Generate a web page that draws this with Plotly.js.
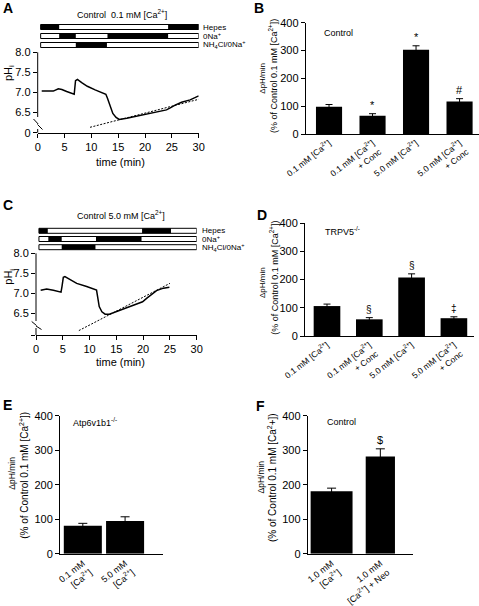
<!DOCTYPE html>
<html><head><meta charset="utf-8">
<script src="https://cdn.plot.ly/plotly-3.0.1.min.js"></script>
<style>html,body{margin:0;padding:0;background:#fff}</style>
</head><body><div id="chart" style="width:479px;height:606px"></div>
<script>
// ---------------- DATA ----------------
// Panel A: Control 0.1 mM [Ca2+]
const A_time = [0.75, 2.9, 3.85, 4.5, 5.4, 6.8, 7.05, 7.4, 8.2, 9.25, 10.7, 11.9, 12.7, 13.0, 13.5, 14.0, 14.6, 15.2, 16.6, 19.1, 21.6, 24.0, 24.7, 25.6, 26.8, 28.4, 30.0];
const A_pH   = [7.03, 7.03, 7.09, 7.07, 7.02, 6.95, 7.29, 7.32, 7.24, 7.15, 7.06, 7.00, 6.95, 6.85, 6.64, 6.47, 6.37, 6.32, 6.35, 6.42, 6.49, 6.56, 6.61, 6.68, 6.75, 6.81, 6.91];
const A_fitTime = [9.75, 30];
const A_fitPH   = [6.125, 6.825];
// Panel C: Control 5.0 mM [Ca2+]
const C_time = [0.87, 1.99, 3.24, 4.67, 4.85, 5.1, 5.4, 6.35, 7.6, 9.46, 11.0, 11.3, 11.5, 11.8, 12.3, 12.9, 13.7, 15.1, 16.9, 18.8, 19.9, 20.7, 21.6, 22.5, 23.8, 24.9];
const C_pH   = [7.08, 7.11, 7.08, 7.03, 7.17, 7.40, 7.42, 7.35, 7.25, 7.17, 7.11, 7.08, 6.92, 6.67, 6.54, 6.48, 6.48, 6.55, 6.65, 6.75, 6.79, 6.88, 6.98, 7.07, 7.13, 7.15];
const C_fitTime = [8.0, 25.0];
const C_fitPH   = [6.07, 7.25];

const timeTicks = [0, 5, 10, 15, 20, 25, 30];
const A_pHTickVals = [5.99, 6.5, 7.0, 7.5, 8.0];
const A_pHTickText = ['0', '6.5', '7.0', '7.5', '8.0'];
const C_pHTickVals = [5.96, 6.5, 7.0, 7.5, 8.0];
const C_pHTickText = ['', '6.5', '7.0', '7.5', '8.0'];

// Solution protocol bars (time spans; black = solution applied)
const condLabels = ['Hepes', '0Na<sup>+</sup>', 'NH<sub>4</sub>Cl/0Na<sup>+</sup>'];
const A_condSpan = [0.55, 30];
const A_hepesOn = [[0.55, 4.0], [24.3, 30]];
const A_naFreeOn = [[4.0, 7.1], [13.0, 24.3]];
const A_nh4On = [[7.1, 12.9]];
const C_condSpan = [0.55, 30];
const C_hepesOn = [[0.55, 2.2], [19.8, 25.2]];
const C_naFreeOn = [[2.3, 4.8], [11.2, 19.7]];
const C_nh4On = [[4.8, 11.1]];

// Panel B: Control
const B_cats = ['0.1 mM [Ca<sup>2+</sup>]', '0.1 mM [Ca<sup>2+</sup>]<br>+ Conc', '5.0 mM [Ca<sup>2+</sup>]', '5.0 mM [Ca<sup>2+</sup>]<br>+ Conc'];
const B_vals = [98, 66, 303, 117];
const B_errs = [8, 7, 14, 10];
const B_marks = ['', '*', '*', '#'];
// Panel D: TRPV5-/-
const D_cats = ['0.1 mM [Ca<sup>2+</sup>]', '0.1 mM [Ca<sup>2+</sup>]<br>+ Conc', '5.0 mM [Ca<sup>2+</sup>]', '5.0 mM [Ca<sup>2+</sup>]<br>+ Conc'];
const D_vals = [106, 59, 207, 63];
const D_errs = [7, 6, 13, 5];
const D_marks = ['', '§', '§', '‡'];
// Panel E: Atp6v1b1-/-
const E_cats = ['0.1 mM<br>[Ca<sup>2+</sup>]', '5.0 mM<br>[Ca<sup>2+</sup>]'];
const E_vals = [81, 95];
const E_errs = [7, 12];
// Panel F: Control, neomycin
const F_cats = ['1.0 mM<br>[Ca<sup>2+</sup>]', '1.0 mM<br>[Ca<sup>2+</sup>] + Neo'];
const F_vals = [181, 282];
const F_errs = [9, 22];
const F_marks = ['', '$'];
const barTicks = [0, 100, 200, 300, 400];

// ---------------- LAYOUT HELPERS ----------------
const W = 479, H = 606;
const px = x => x / W;
const py = y => 1 - y / H;
const FONT = 'Liberation Sans, Arial, Helvetica, sans-serif';

const axBase = {showgrid: false, zeroline: false, showline: true, linecolor: '#000', linewidth: 1,
  ticks: 'outside', ticklen: 4, tickwidth: 1, tickcolor: '#000', tickfont: {size: 11, color: '#000'}, fixedrange: true};

function ann(x, y, text, size, opts) {
  return Object.assign({xref: 'paper', yref: 'paper', x: px(x), y: py(y), text: text, showarrow: false,
    xanchor: 'center', yanchor: 'middle', font: {size: size, color: '#000', family: FONT}}, opts || {});
}
function line(x0, y0, x1, y1, w) {
  return {type: 'line', xref: 'paper', yref: 'paper', x0: px(x0), y0: py(y0), x1: px(x1), y1: py(y1),
    line: {color: '#000', width: w || 1}};
}
function condShapes(xref, rowTops, rowH, span, rows) {
  const s = [];
  rows.forEach((iv, r) => {
    const y1 = py(rowTops[r]), y0 = py(rowTops[r] + rowH);
    s.push({type: 'rect', xref: xref, yref: 'paper', x0: span[0], x1: span[1], y0: y0, y1: y1,
      line: {color: '#000', width: 1}, fillcolor: '#fff'});
    iv.forEach(([a, b]) => s.push({type: 'rect', xref: xref, yref: 'paper', x0: a, x1: b, y0: y0, y1: y1,
      line: {width: 0}, fillcolor: '#000'}));
  });
  return s;
}
function markAnns(cats, vals, errs, marks, xa, ya, size) {
  const out = [];
  marks.forEach((m, i) => {
    if (!m) return;
    out.push({xref: xa, yref: ya, x: cats[i], y: vals[i] + errs[i], text: m, showarrow: false,
      yanchor: 'bottom', yshift: 1, font: {size: size, color: '#000', family: FONT}});
  });
  return out;
}
function barTrace(cats, vals, errs, xa, ya, width, capw) {
  return {type: 'bar', x: cats, y: vals, xaxis: xa, yaxis: ya, width: width,
    marker: {color: '#000', line: {width: 0}},
    error_y: {type: 'data', array: errs, symmetric: true, color: '#000', thickness: 1, width: capw},
    hoverinfo: 'skip'};
}

// ---------------- TRACES ----------------
const traces = [
  {x: A_time, y: A_pH, xaxis: 'x', yaxis: 'y', mode: 'lines', line: {color: '#000', width: 1.5}},
  {x: A_fitTime, y: A_fitPH, xaxis: 'x', yaxis: 'y', mode: 'lines', line: {color: '#000', width: 1, dash: '2px,1.5px'}},
  {x: C_time, y: C_pH, xaxis: 'x3', yaxis: 'y3', mode: 'lines', line: {color: '#000', width: 1.5}},
  {x: C_fitTime, y: C_fitPH, xaxis: 'x3', yaxis: 'y3', mode: 'lines', line: {color: '#000', width: 1, dash: '2px,1.5px'}},
  barTrace(B_cats, B_vals, B_errs, 'x2', 'y2', 0.6, 3.5),
  barTrace(D_cats, D_vals, D_errs, 'x4', 'y4', 0.63, 3.5),
  barTrace(E_cats, E_vals, E_errs, 'x5', 'y5', 0.9, 4.5),
  barTrace(F_cats, F_vals, F_errs, 'x6', 'y6', [0.86, 0.6], 4.5)
];

const catAx = {type: 'category', ticks: '', tickangle: -38, tickfont: {size: 8.5, color: '#000'}};

const layout = {
  width: W, height: H, margin: {l: 0, r: 0, t: 0, b: 0, pad: 0},
  paper_bgcolor: '#fff', plot_bgcolor: 'rgba(0,0,0,0)', showlegend: false,
  font: {family: FONT, color: '#000', size: 11},
  // A
  xaxis: Object.assign({}, axBase, {domain: [px(37.7), px(198.7)], range: [0, 30], tickvals: timeTicks, anchor: 'y'}),
  yaxis: Object.assign({}, axBase, {showline: false, domain: [py(132.7), py(52.3)], range: [5.99, 8.0],
    tickvals: A_pHTickVals, ticktext: A_pHTickText, anchor: 'x'}),
  // B
  xaxis2: Object.assign({}, axBase, catAx, {domain: [px(305.7), px(478.7)], range: [-0.536, 3.44], anchor: 'y2'}),
  yaxis2: Object.assign({}, axBase, {domain: [py(134), py(22.7)], range: [0, 400], tickvals: barTicks, anchor: 'x2'}),
  // C
  xaxis3: Object.assign({}, axBase, {domain: [px(36), px(196.7)], range: [0, 30], tickvals: timeTicks, anchor: 'y3'}),
  yaxis3: Object.assign({}, axBase, {showline: false, domain: [py(335), py(253.3)], range: [5.96, 8.0],
    tickvals: C_pHTickVals, ticktext: C_pHTickText, anchor: 'x3'}),
  // D
  xaxis4: Object.assign({}, axBase, catAx, {domain: [px(305), px(474)], range: [-0.52, 3.475], anchor: 'y4'}),
  yaxis4: Object.assign({}, axBase, {domain: [py(336), py(223)], range: [0, 400], tickvals: barTicks, anchor: 'x4'}),
  // E
  xaxis5: Object.assign({}, axBase, catAx, {domain: [px(60), px(162.7)], range: [-0.54, 1.89], anchor: 'y5', tickfont: {size: 9, color: '#000'}}),
  yaxis5: Object.assign({}, axBase, {domain: [py(553.7), py(415.7)], range: [0, 400], tickvals: barTicks, anchor: 'x5'}),
  // F
  xaxis6: Object.assign({}, axBase, catAx, {domain: [px(307.7), px(413)], range: [-0.49, 1.67], anchor: 'y6', tickfont: {size: 9, color: '#000'}}),
  yaxis6: Object.assign({}, axBase, {domain: [py(553.7), py(415.7)], range: [0, 400], tickvals: barTicks, anchor: 'x6'}),
  shapes: [].concat(
    condShapes('x', [24.5, 33.5, 42.5], 5, A_condSpan, [A_hepesOn, A_naFreeOn, A_nh4On]),
    condShapes('x3', [228.3, 236.5, 244.7], 5, C_condSpan, [C_hepesOn, C_naFreeOn, C_nh4On]),
    [
      // broken pH axis, panel A
      line(37.7, 52.3, 37.7, 117), line(33.5, 119, 38.2, 124), line(37.5, 124.5, 42.5, 129.5), line(37.7, 129, 37.7, 132.7),
      // broken pH axis, panel C
      line(36, 253.3, 36, 321), line(31.7, 321.5, 36.5, 325.5), line(36, 326, 41.5, 329.5), line(36, 328, 36, 335)
    ]
  ),
  annotations: [].concat(
    [
      ann(7.7, 8.5, '<b>A</b>', 14), ann(259, 8.5, '<b>B</b>', 14), ann(7.5, 205, '<b>C</b>', 14),
      ann(261.7, 215, '<b>D</b>', 14), ann(7.5, 405, '<b>E</b>', 14), ann(260.5, 406, '<b>F</b>', 14),
      ann(121.7, 14.3, 'Control  0.1 mM [Ca<sup>2+</sup>]', 9),
      ann(121, 215, 'Control 5.0 mM [Ca<sup>2+</sup>]', 9),
      ann(120.8, 161.7, 'time (min)', 11), ann(120, 362, 'time (min)', 11),
      ann(9, 73, 'pH<sub>i</sub>', 11, {textangle: -90}), ann(9, 276.7, 'pH<sub>i</sub>', 11, {textangle: -90}),
      ann(321.7, 32.7, 'Control', 9, {xanchor: 'left'}),
      ann(322.7, 230.8, 'TRPV5<sup>-/-</sup>', 9, {xanchor: 'left'}),
      ann(71, 422.3, 'Atp6v1b1<sup>-/-</sup>', 9, {xanchor: 'left'}),
      ann(325, 422.3, 'Control', 9, {xanchor: 'left'}),
      // y titles of bar panels
      ann(261.7, 78, 'ΔpH/min', 8, {textangle: -90}), ann(273, 76, '(% of Control 0.1 mM [Ca<sup>2+</sup>])', 9, {textangle: -90}),
      ann(262, 283, 'ΔpH/min', 8, {textangle: -90}), ann(273.3, 277.5, '(% of Control 0.1 mM [Ca<sup>2+</sup>])', 9, {textangle: -90}),
      ann(11.7, 473, 'ΔpH/min', 8.5, {textangle: -90}), ann(23.3, 475.5, '(% of Control 0.1 mM [Ca<sup>2+</sup>])', 10, {textangle: -90}),
      ann(260, 477.5, 'ΔpH/min', 8.5, {textangle: -90}), ann(271.5, 477.5, '(% of Control 0.1 mM [Ca<sup>2</sup>+])', 10, {textangle: -90})
    ],
    condLabels.map((t, i) => ann(201, [24.5, 33.5, 42.5][i] + 2.5, t, 8, {xanchor: 'left'})),
    condLabels.map((t, i) => ann(199.5, [228.3, 236.5, 244.7][i] + 2.5, t, 8, {xanchor: 'left'})),
    markAnns(B_cats, B_vals, B_errs, B_marks, 'x2', 'y2', 11),
    markAnns(D_cats, D_vals, D_errs, D_marks, 'x4', 'y4', 10),
    markAnns(F_cats, F_vals, F_errs, F_marks, 'x6', 'y6', 11)
  )
};

Plotly.newPlot('chart', traces, layout, {staticPlot: true, displayModeBar: false});
</script>
</body></html>
